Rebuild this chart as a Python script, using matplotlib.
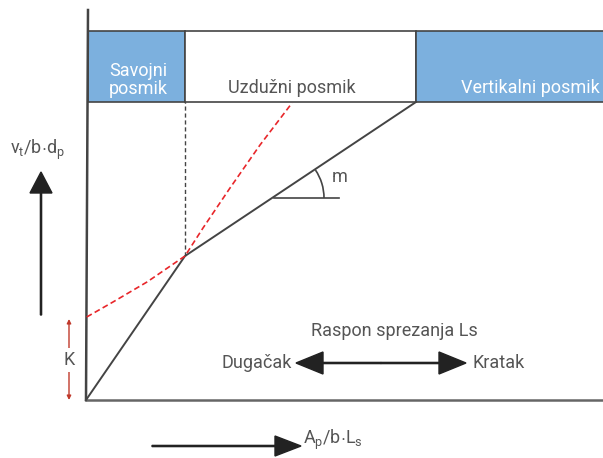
import matplotlib.pyplot as plt
from matplotlib.patches import Arc

plt.rcParams['font.family'] = ['Roboto', 'DejaVu Sans']
plt.rcParams['mathtext.fontset'] = 'custom'
plt.rcParams['mathtext.rm'] = 'Roboto'
plt.rcParams['mathtext.it'] = 'Roboto'
plt.rcParams['mathtext.default'] = 'rm'

# schematic values (origin = corner of the two axes)
zone_labels = ['Savojni\nposmik', 'Uzdužni posmik', 'Vertikalni posmik']
zone_left = [2, 99, 330]
zone_width = [97, 231, 190]
zone_colors = ['#7cb0de', 'white', '#7cb0de']
zone_text_colors = ['white', '#555555', 'white']
zone_text_x = [52, 206, 444]
zone_text_y = [320, 312, 312]
band_bottom = 298
band_height = 71

capacity_x = [0, 99, 330]
capacity_y = [0, 144, 298]

demand_x = [0.7, 27, 61, 99, 117, 144, 174, 206]
demand_y = [83, 98, 118, 144, 172, 212, 255, 297]

k_value = 81
slope_ref_x = [188, 253]
slope_ref_y = 202

gray = '#555555'
dark = '#444444'
fs = 13

fig = plt.figure(figsize=(6.03, 4.58), dpi=100)
ax = fig.add_axes([0, 0, 1, 1])
ax.set_xlim(-86, 517)
ax.set_ylim(-58, 400)
ax.axis('off')

# zone band at the top
ax.barh(band_bottom + band_height / 2, zone_width, left=zone_left,
        height=band_height, color=zone_colors, edgecolor=dark, linewidth=1.2)
for lab, tx, ty, tc in zip(zone_labels, zone_text_x, zone_text_y, zone_text_colors):
    ax.text(tx, ty, lab, color=tc, fontsize=fs, ha='center', va='center',
            linespacing=1.0)

# axes lines
ax.plot([0, 2], [0, 390], color=dark, lw=1.8)
ax.plot([0, 517], [0, 0], color='#666666', lw=1.8)

# dashed limit at knee
ax.plot([capacity_x[1], capacity_x[1]], [capacity_y[1], band_bottom],
        color=dark, lw=1, ls=(0, (3, 2)))

# capacity line
ax.plot(capacity_x, capacity_y, color=dark, lw=1.4)

# demand (red dashed)
ax.plot(demand_x, demand_y, color='#e8262a', lw=1.2, ls=(0, (3.5, 2)))

# slope angle m
ax.plot(slope_ref_x, [slope_ref_y, slope_ref_y], color=dark, lw=1.2)
ax.add_patch(Arc((slope_ref_x[0], slope_ref_y), 100, 100, theta1=0, theta2=34,
                 color=dark, lw=1.2))
ax.text(246, 223, 'm', color=gray, fontsize=fs, ha='left', va='center')

# K dimension
ax.annotate('', xy=(-17, 0), xytext=(-17, k_value),
            arrowprops=dict(arrowstyle='<|-|>', color='#c0392b', lw=1,
                            mutation_scale=6, shrinkA=0, shrinkB=0))
ax.text(-17, 40, 'K', color=gray, fontsize=fs, ha='center', va='center',
        bbox=dict(facecolor='white', edgecolor='none', pad=2))

# y axis label + arrow
ax.text(-49, 250, r'$v_t/b{\cdot}d_p$', color=gray, fontsize=fs,
        ha='center', va='center')
ax.arrow(-45, 85, 0, 143, width=1.2, head_width=22, head_length=21,
         length_includes_head=True, color='#222222')

# x axis label + arrow
ax.arrow(66, -46, 149, 0, width=1.2, head_width=20, head_length=26,
         length_includes_head=True, color='#222222')
ax.text(217, -40, r'$A_p/b{\cdot}L_s$', color=gray, fontsize=fs,
        ha='left', va='center')

# span arrows
ax.text(308, 69, 'Raspon sprezanja Ls', color=gray, fontsize=fs,
        ha='center', va='center')
ax.arrow(295, 37, -85, 0, width=1.2, head_width=22, head_length=27,
         length_includes_head=True, color='#222222')
ax.arrow(295, 37, 85, 0, width=1.2, head_width=22, head_length=27,
         length_includes_head=True, color='#222222')
ax.text(206, 37, 'Dugačak', color=gray, fontsize=fs, ha='right', va='center')
ax.text(387, 37, 'Kratak', color=gray, fontsize=fs, ha='left', va='center')

fig.savefig('out.png', dpi=100)
